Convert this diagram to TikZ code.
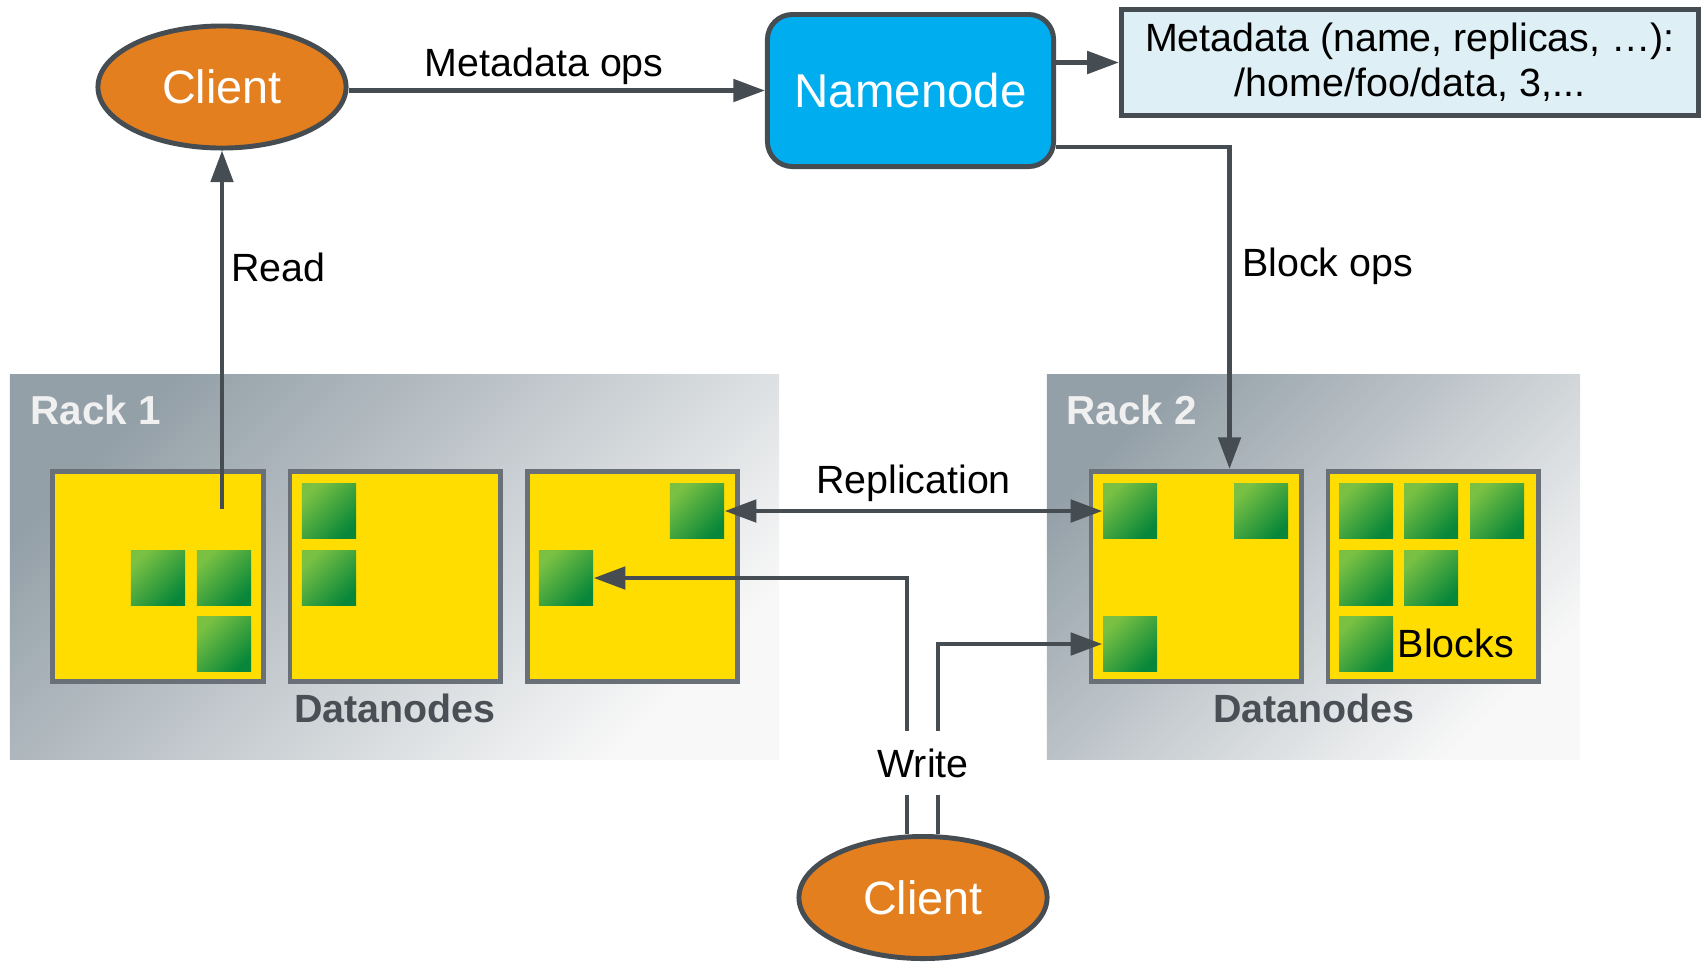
\documentclass[tikz,border=0pt]{standalone}
\usepackage{fontspec}
\setmainfont{Liberation Sans}
\usepackage{tikz}
\usetikzlibrary{positioning, shapes.geometric, arrows.meta}

\definecolor{clientorange}{RGB}{228,127,31}
\definecolor{nameblue}{RGB}{0,173,238}
\definecolor{linegray}{RGB}{69,76,82}
\definecolor{metafill}{RGB}{222,239,245}
\definecolor{dnyellow}{RGB}{255,221,0}
\definecolor{dnborder}{RGB}{106,112,120}
\definecolor{blklight}{RGB}{122,193,67}
\definecolor{blkdark}{RGB}{8,135,58}
\definecolor{rackdark}{RGB}{148,160,168}
\definecolor{racklight}{RGB}{248,248,248}
\definecolor{racktext}{RGB}{240,240,240}
\definecolor{dntext}{RGB}{74,79,85}

\tikzset{
    base/.style={draw=linegray, line width=1.4pt, align=center},
    clientnode/.style={base, ellipse, fill=clientorange, text=white, minimum width=2.48cm, minimum height=1.22cm, font=\fontsize{13.3}{16}\selectfont},
    namebox/.style={base, rectangle, rounded corners=0.25cm, fill=nameblue, text=white, minimum width=2.86cm, minimum height=1.52cm, font=\fontsize{13.5}{16}\selectfont},
    metabox/.style={base, rectangle, fill=metafill, minimum width=5.77cm, minimum height=1.06cm, font=\fontsize{11.2}{12.8}\selectfont},
    rackbox/.style={rectangle, inner sep=0pt, top color=rackdark, bottom color=racklight, shading angle=45},
    datanode/.style={draw=dnborder, line width=1.4pt, fill=dnyellow, minimum size=2.10cm, inner sep=0pt},
    blk/.style={rectangle, inner sep=0pt, minimum width=0.54cm, minimum height=0.55cm, top color=blklight, bottom color=blkdark, shading angle=45},
    lbl/.style={inner sep=2pt, font=\fontsize{11.2}{13}\selectfont},
    racklabel/.style={anchor=west, inner sep=0pt, text=racktext, font=\fontsize{11.5}{14}\selectfont\bfseries},
    dnlabel/.style={inner sep=0pt, text=dntext, font=\fontsize{11.2}{14}\selectfont\bfseries},
    arrow/.style={-{Triangle[length=9pt, width=6.3pt]}, draw=linegray, line width=1.3pt},
    dblarrow/.style={arrow, {Triangle[length=9pt, width=6.3pt]}-{Triangle[length=9pt, width=6.3pt]}}
}

\begin{document}
\begin{tikzpicture}[x=0.01cm, y=-0.01cm]
    \useasboundingbox (0,0) rectangle (1704,963);

    % Racks
    \node[rackbox, minimum width=7.69cm, minimum height=3.84cm] (rack1) at (394.5,567) {};
    \node[rackbox, minimum width=5.33cm, minimum height=3.84cm] (rack2) at (1313.5,567) {};
    \node[racklabel] at (30,410) {Rack 1};
    \node[racklabel] at (1066,410) {Rack 2};

    % Datanodes
    \node[datanode] (r1dn1) at (158,576.5) {};
    \node[datanode, right=0.22cm of r1dn1] (r1dn2) {};
    \node[datanode, right=0.22cm of r1dn2] (r1dn3) {};
    \node[datanode] (r2dn1) at (1196,576.5) {};
    \node[datanode, right=0.22cm of r2dn1] (r2dn2) {};
    \node[dnlabel] at (395,708) {Datanodes};
    \node[dnlabel] at (1314,708) {Datanodes};

    % Blocks, rack 1
    \node[blk] (b11a) at (158,578) {};
    \node[blk] (b11b) at (224,578) {};
    \node[blk] (b11c) at (224,644) {};
    \node[blk] (b12a) at (329,511) {};
    \node[blk] (b12b) at (329,578) {};
    \node[blk] (b13a) at (697,511) {};
    \node[blk] (b13b) at (566,578) {};

    % Blocks, rack 2
    \node[blk] (b21a) at (1130,511) {};
    \node[blk] (b21b) at (1261,511) {};
    \node[blk] (b21c) at (1130,644) {};
    \node[blk] (b22a) at (1366,511) {};
    \node[blk] (b22b) at (1431,511) {};
    \node[blk] (b22c) at (1497,511) {};
    \node[blk] (b22d) at (1366,578) {};
    \node[blk] (b22e) at (1431,578) {};
    \node[blk] (b22f) at (1366,644) {};
    \node[lbl, anchor=west, inner sep=0pt] at (1397,643) {Blocks};

    % Clients, namenode, metadata
    \node[clientnode] (client1) at (222,87) {Client};
    \node[namebox] (namenode) at (910.5,90.5) {Namenode};
    \node[metabox] (meta) at (1410,62.5) {Metadata (name, replicas, …):\\/home/foo/data, 3,...};
    \node[clientnode] (client2) at (923,897.5) {Client};

    % Connectors
    \draw[arrow] (namenode.west -| client1.east) -- (namenode.west) node[lbl, pos=0.47, above, inner sep=1pt] {Metadata ops};
    \draw[arrow] (meta.west -| namenode.east) -- (meta.west);
    \draw[arrow] ([yshift=0.22cm]namenode.south east) -| ([xshift=0.335cm]r2dn1.north) node[lbl, pos=0.685, right=1pt] {Block ops};

    \coordinate (readsrc) at (222,509);
    \draw[arrow] (readsrc) -- (client1.south) node[lbl, pos=0.674, right] {Read};

    \draw[dblarrow] (b13a.east) -- (b21a.west) node[lbl, midway, above] {Replication};

    \draw[arrow] ([xshift=-0.16cm]client2.north) |- (b13b.east);
    \draw[arrow] ([xshift=0.15cm]client2.north) |- (b21c.west);
    \node[lbl, fill=white, inner ysep=5pt] (write) at (923,763) {Write};
\end{tikzpicture}
\end{document}
